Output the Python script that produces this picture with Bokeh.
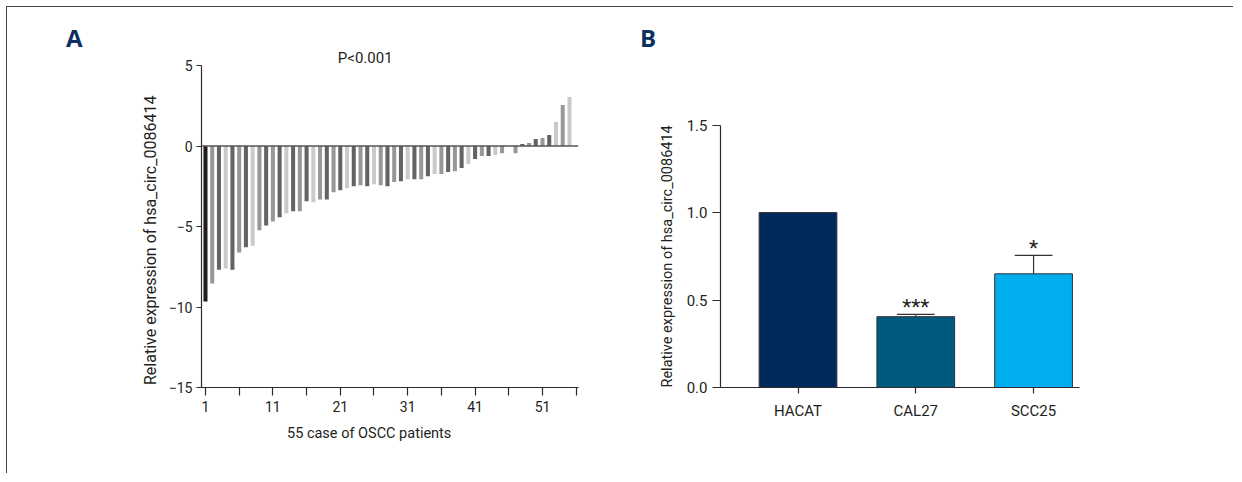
import math
from bokeh.plotting import figure
from bokeh.layouts import row
from bokeh.models import ColumnDataSource, FixedTicker, Span, Label, Title
from bokeh.embed import file_html
from bokeh.resources import INLINE
from bokeh.core.properties import value

FONT = "Roboto"

# ---------------- Panel A data ----------------
case_no = list(range(1, 56))
expr = [-9.66, -8.54, -7.68, -7.60, -7.68, -6.62, -6.29, -6.19, -5.23, -4.94,
        -4.69, -4.42, -4.17, -4.05, -4.05, -3.43, -3.49, -3.32, -3.32, -2.87,
        -2.74, -2.62, -2.49, -2.43, -2.49, -2.37, -2.43, -2.49, -2.24, -2.18,
        -2.06, -2.06, -2.06, -1.87, -1.74, -1.74, -1.62, -1.56, -1.37, -1.12,
        -0.81, -0.62, -0.62, -0.56, -0.44, 0.0, -0.44, 0.12, 0.19, 0.44,
        0.50, 0.69, 1.50, 2.55, 3.05]
shade = ["k", "m", "d", "l", "d", "m", "d", "l", "m", "d",
         "m", "d", "l", "d", "m", "d", "l", "m", "d", "m",
         "d", "l", "d", "m", "d", "l", "m", "d", "m", "d",
         "l", "d", "m", "d", "l", "m", "d", "m", "d", "l",
         "d", "m", "d", "l", "m", "d", "m", "d", "m", "d",
         "m", "d", "l", "m", "l"]
PALETTE = {"k": "#1e1e1e", "d": "#636363", "m": "#989898", "l": "#cacaca"}

y_ticks_a = [-15, -10, -5, 0, 5]
y_tick_labels_a = ["\u221215", "\u221210", "\u22125", "0", "5"]
x_ticks_a = [1, 6, 11, 16, 21, 26, 31, 36, 41, 46, 51, 56]
x_tick_labels_a = ["1", "", "11", "", "21", "", "31", "", "41", "", "51", ""]

# ---------------- Panel B data ----------------
cell_lines = ["HACAT", "CAL27", "SCC25"]
rel_expr = [1.0, 0.405, 0.65]
sem = [0.0, 0.013, 0.105]
stars = ["", "***", "*"]
bar_colors_b = ["#002a5c", "#005a7e", "#00aeef"]
y_ticks_b = [0.0, 0.5, 1.0, 1.5]
y_tick_labels_b = ["0.0", "0.5", "1.0", "1.5"]

AXIS_COLOR = "#2b2b2b"
TEXT_COLOR = "#231f20"
NAVY = "#0d2f5f"
YLABEL = "Relative expression of hsa_circ_0086414"


def style_axis(ax, size):
    ax.axis_line_color = AXIS_COLOR
    ax.axis_line_width = 1.2
    ax.major_tick_line_color = AXIS_COLOR
    ax.major_tick_line_width = 1.2
    ax.minor_tick_line_color = None
    ax.major_tick_in = 0
    ax.major_label_text_font = FONT
    ax.major_label_text_font_size = size
    ax.major_label_text_color = TEXT_COLOR


def panel_letter(p, letter, offset):
    p.title.text = letter
    p.title.align = "left"
    p.title.offset = offset
    p.title.vertical_align = "bottom"
    p.title.text_font = "Open Sans"
    p.title.text_font_style = "bold"
    p.title.text_font_size = "24px"
    p.title.text_color = NAVY
    try:
        p.title.standoff = -11
    except Exception:
        p.title.standoff = 0


def side_title(p, text, side, size, align, offset, standoff, vertical_align="bottom"):
    t = Title(text=text, align=align, offset=offset, standoff=standoff,
              vertical_align=vertical_align, text_font=FONT, text_font_size=size,
              text_font_style="normal", text_color=TEXT_COLOR)
    p.add_layout(t, side)


# ================= Panel A =================
pA = figure(width=620, height=466, x_range=(0.41, 56.34), y_range=(-15, 6.06),
            output_backend="svg", toolbar_location=None,
            min_border_left=194, min_border_right=49,
            min_border_top=41, min_border_bottom=86)
pA.outline_line_color = None
pA.grid.visible = False
pA.background_fill_color = "white"

srcA = ColumnDataSource(dict(x=case_no, y=expr, c=[PALETTE[s] for s in shade]))
pA.vbar(x="x", top="y", bottom=0, width=0.6, fill_color="c", line_color=None, source=srcA)
pA.add_layout(Span(location=0, dimension="width", line_color="#555555", line_width=1.6))

style_axis(pA.xaxis[0], "14px")
style_axis(pA.yaxis[0], "14px")
pA.xaxis.ticker = FixedTicker(ticks=x_ticks_a)
pA.xaxis.major_label_overrides = {t: l for t, l in zip(x_ticks_a, x_tick_labels_a)}
pA.xaxis.major_tick_out = 8
pA.xaxis.major_label_standoff = 5
pA.yaxis.ticker = FixedTicker(ticks=y_ticks_a)
pA.yaxis.bounds = (-15, 5)
pA.yaxis.major_label_overrides = {t: l for t, l in zip(y_ticks_a, y_tick_labels_a)}
pA.yaxis.major_tick_out = 5
pA.yaxis.major_label_standoff = 4

panel_letter(pA, "A", -135.5)
pA.add_layout(Label(x=24.7, y=5.48, text="P<0.001", text_font=FONT, text_font_size="15px",
                    text_color=TEXT_COLOR, text_align="center", text_baseline="alphabetic"))
side_title(pA, YLABEL, "left", "16px", "left", 2.5, 11)
side_title(pA, "55 case of OSCC patients", "below", "14.5px", "left", 85.5, 21,
           vertical_align="top")

# ================= Panel B =================
xs_b = list(range(1, len(cell_lines) + 1))
pB = figure(width=606, height=466, x_range=(0.342, 3.39), y_range=(0, 1.938),
            output_backend="svg", toolbar_location=None,
            min_border_left=93, min_border_right=154,
            min_border_top=41, min_border_bottom=86)
pB.outline_line_color = None
pB.grid.visible = False
pB.background_fill_color = "white"

ytop_b = [v + s for v, s in zip(rel_expr, sem)]
srcB = ColumnDataSource(dict(x=xs_b, y=rel_expr, c=bar_colors_b, st=stars,
                             sy=[t + 0.042 for t in ytop_b]))
pB.vbar(x="x", top="y", bottom=0, width=0.66, fill_color="c", line_color="#333333",
        line_width=1, source=srcB)
err_src = ColumnDataSource(dict(x=xs_b[1:], y=rel_expr[1:], ytop=ytop_b[1:],
                                x0=[x - 0.16 for x in xs_b[1:]], x1=[x + 0.16 for x in xs_b[1:]]))
pB.segment(x0="x", y0="y", x1="x", y1="ytop", line_color="#333333", line_width=1.2, source=err_src)
pB.segment(x0="x0", y0="ytop", x1="x1", y1="ytop", line_color="#333333", line_width=1.2, source=err_src)
pB.text(x="x", y="sy", text="st", text_font=value(FONT), text_font_size="21px",
        text_color=TEXT_COLOR, text_align="center", text_baseline="alphabetic", source=srcB)

style_axis(pB.xaxis[0], "15px")
style_axis(pB.yaxis[0], "15px")
pB.xaxis.ticker = FixedTicker(ticks=xs_b)
pB.xaxis.major_label_overrides = {x: n for x, n in zip(xs_b, cell_lines)}
pB.xaxis.major_tick_out = 6
pB.xaxis.major_label_standoff = 8
pB.yaxis.ticker = FixedTicker(ticks=y_ticks_b)
pB.yaxis.bounds = (0, 1.5)
pB.yaxis.major_label_overrides = {t: l for t, l in zip(y_ticks_b, y_tick_labels_b)}
pB.yaxis.major_tick_out = 8
pB.yaxis.major_label_standoff = 5

panel_letter(pB, "B", -80.5)
side_title(pB, YLABEL, "left", "14.5px", "left", 0, 15)

layout = row(pA, pB, styles={"margin-left": "6px", "margin-top": "6px",
                             "border-top": "1.5px solid #444444",
                             "border-left": "1.5px solid #444444"})

open("out.html", "w").write(file_html(layout, INLINE))
